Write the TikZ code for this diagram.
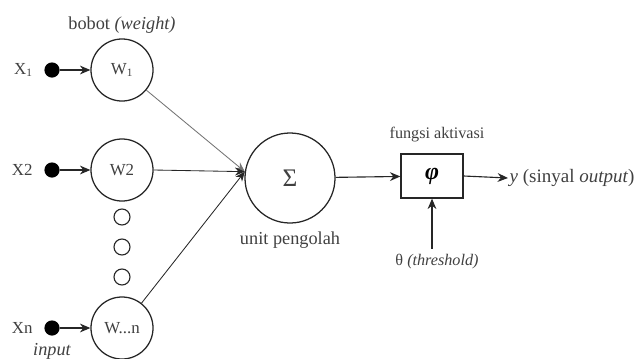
\documentclass[tikz,border=0pt]{standalone}
\usepackage{amsmath,amssymb}
\usepackage{fontspec}
\setmainfont{Liberation Serif}
\usepackage{tikz}
\usetikzlibrary{positioning,calc,arrows.meta}

\tikzset{
    weight/.style={draw=black!85, circle, line width=0.9pt, minimum size=1.55cm, inner sep=0pt, text=black!75},
    dot/.style={fill=black, circle, minimum size=0.38cm, inner sep=0pt},
    gap/.style={draw=black!85, circle, line width=0.8pt, minimum size=0.4cm, inner sep=0pt},
    lbl/.style={text=black!75, inner sep=1pt},
    big/.style={font=\fontsize{13}{14}\selectfont},
    mid/.style={font=\fontsize{11.5}{13}\selectfont},
    arr/.style={-{Stealth[length=2.6mm,width=2.2mm]}, line width=0.8pt, draw=black!85},
    link/.style={-{Stealth[length=2.4mm,width=2mm]}, line width=0.6pt, draw=black!85}
}

\begin{document}
\begin{tikzpicture}[x=0.025cm, y=0.025cm, font=\fontsize{12}{13}\selectfont]
    \useasboundingbox (0,0) rectangle (637,358);

    % inputs and weights
    \node[weight] (w1) at (122,288) {W\textsubscript{1}};
    \node[weight] (w2) at (122,188) {W2};
    \node[weight] (wn) at (122,30) {W...n};
    \node[dot] (d1) at (52,288) {};
    \node[dot] (d2) at (52,188) {};
    \node[dot] (dn) at (52,30) {};
    \node[lbl, left=7pt of d1] (x1) {X\textsubscript{1}};
    \node[lbl, left=7pt of d2] (x2) {X2};
    \node[lbl, left=7pt of dn] (xn) {Xn};
    \node[lbl, big] (inp) at (52,7) {\itshape input};
    \node[lbl, big] (bobot) at (122,333) {bobot \textit{(weight)}};
    \foreach \y [count=\i] in {141,111,81} \node[gap] (g\i) at (122,\y) {};

    \draw[arr] (d1) -- (w1);
    \draw[arr] (d2) -- (w2);
    \draw[arr] (dn) -- (wn);

    % unit pengolah
    \node[weight, minimum size=2.25cm, font=\fontsize{18}{19}\selectfont] (sig) at (290,180) {Σ};
    \node[lbl, big] (unit) at (290,118) {unit pengolah};
    \draw[link, draw=black!55] (w1) -- (sig.172);
    \draw[link] (w2.east) -- (sig.172);
    \draw[link] (wn) -- (sig.172);

    % fungsi aktivasi
    \node[draw=black!85, line width=0.9pt, minimum width=1.55cm, minimum height=1.1cm, font=\fontsize{17}{18}\selectfont\bfseries\itshape] (phi) at (432,182) {φ};
    \node[lbl, mid] (fa) at (437,223) {fungsi aktivasi};
    \node[lbl, font=\fontsize{13.5}{15}\selectfont, anchor=west] (out) at (508,180) {\textit{y} (sinyal \textit{output})};
    \node[lbl, mid] (th) at (437,96) {θ \textit{(threshold)}};
    \draw[arr] (sig) -- (phi);
    \draw[arr] (phi.east) -- (out.west);
    \draw[arr] (phi.south |- th.north) ++(0,4) -- (phi.south);
\end{tikzpicture}
\end{document}
